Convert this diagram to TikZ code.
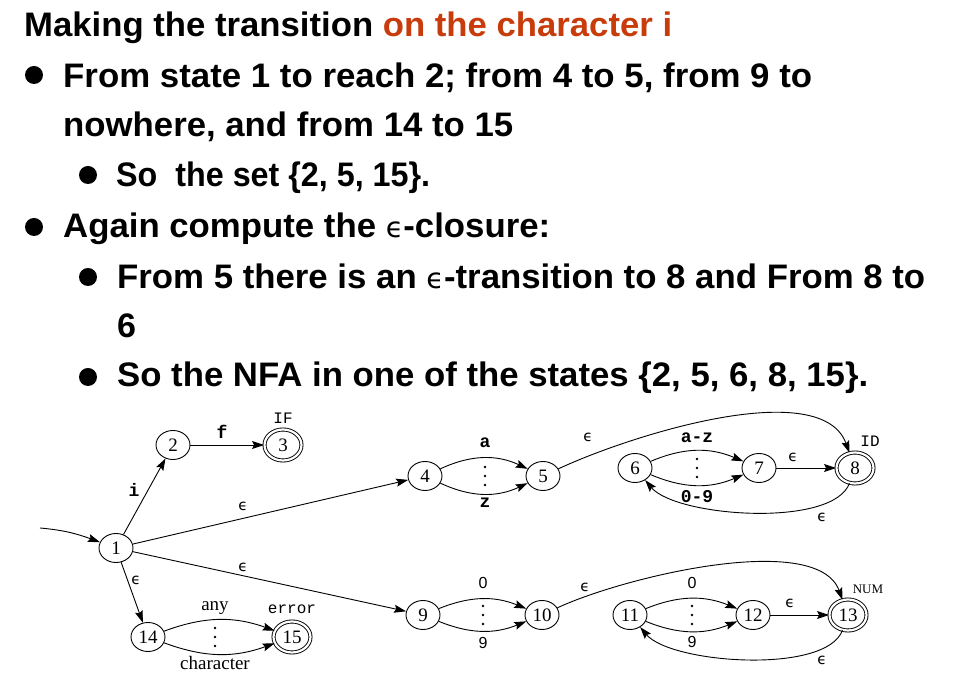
\documentclass[tikz,border=0pt]{standalone}
\usepackage{fontspec}
\setmainfont{Liberation Sans}
\newfontfamily\tms{Liberation Serif}
\newfontfamily\crr{Liberation Mono}
\newfontfamily\dv{DejaVu Sans}
\usetikzlibrary{arrows.meta,shapes.geometric}
\definecolor{hl}{RGB}{200,60,12}
\newcommand\fitw[2]{\resizebox{#1}{\height}{#2}}
\newcommand\teps{{\dv\mdseries\fontsize{28}{28}\selectfont ϵ}}
\newcommand\dotcol[2]{\fill (#1,#2+9) circle (1.3) (#1,#2) circle (1.3) (#1,#2-9) circle (1.3);}
\begin{document}
\begin{tikzpicture}[x=1pt,y=1pt,
  st/.style={ellipse,draw,line width=0.9pt,minimum width=34pt,minimum height=29pt,inner sep=0pt,font=\tms\fontsize{19}{19}\selectfont},
  acc/.style={st,double,double distance=2.2pt,minimum width=37pt,minimum height=31pt},
  tr/.style={-{Stealth[length=12pt,width=8pt,inset=2pt]},line width=0.9pt},
  txt/.style={anchor=base west,inner sep=0pt,font=\fontsize{34}{34}\selectfont\bfseries},
  bul/.style={circle,fill=black,inner sep=0pt,minimum size=18pt},
  eps/.style={inner sep=0pt,font=\dv\fontsize{15}{15}\selectfont},
  cb/.style={inner sep=0pt,font=\crr\bfseries\fontsize{18}{18}\selectfont},
  cr/.style={inner sep=0pt,font=\crr\fontsize{16}{16}\selectfont},
  tl/.style={inner sep=0pt,font=\tms\fontsize{19}{19}\selectfont},
  sl/.style={inner sep=0pt,font=\fontsize{16}{16}\selectfont}]
\useasboundingbox (0,0) rectangle (962,688);
% ---------- text ----------
\node[txt] (t1) at (24,651) {\fitw{648pt}{Making the transition \textcolor{hl}{on the character i}}};
\node[bul] (b2) at (34,613) {};
\node[txt] (t2) at (63,600) {\fitw{749pt}{From state 1 to reach 2; from 4 to 5, from 9 to}};
\node[txt] (t3) at (63,551) {\fitw{450pt}{nowhere, and from 14 to 15}};
\node[bul] (b4) at (88,513) {};
\node[txt] (t4) at (116,501) {\fitw{314pt}{So\ \ the set \{2, 5, 15\}.}};
\node[bul] (b5) at (34,461) {};
\node[txt] (t5) at (63,450) {\fitw{487pt}{Again compute the \teps-closure:}};
\node[bul] (b6) at (88,411) {};
\node[txt] (t6) at (117,399) {\fitw{808pt}{From 5 there is an \teps-transition to 8 and From 8 to}};
\node[txt] (t7) at (117,350) {6};
\node[bul] (b8) at (88,311) {};
\node[txt] (t8) at (117,301) {\fitw{751pt}{So the NFA in one of the states \{2, 5, 6, 8, 15\}.}};
% ---------- states ----------
\node[st] (n1) at (116,140) {1};
\node[st] (n2) at (173,243) {2};
\node[acc] (n3) at (283,243) {3};
\node[st] (n14) at (148,51) {14};
\node[acc] (n15) at (292,51) {15};
\node[st] (n4) at (425,212) {4};
\node[st] (n5) at (543,212) {5};
\node[st] (n6) at (635,220) {6};
\node[st] (n7) at (759,220) {7};
\node[acc] (n8) at (855,220) {8};
\node[st] (n9) at (423,73) {9};
\node[st] (n10) at (542,73) {10};
\node[st] (n11) at (630,73) {11};
\node[st] (n12) at (753,73) {12};
\node[acc] (n13) at (848,73) {13};
\coordinate (init) at (40,160);
% ---------- edges ----------
\draw[tr] (init) to[out=-5,in=160] (n1);
\draw[tr] (n1) -- (n2);
\draw[tr] (n2) -- (n3);
\draw[tr] (n1) -- (n4);
\draw[tr] (n1) -- (n9);
\draw[tr] (n1) -- (n14);
\draw[tr] (n14) to[bend left=20] (n15);
\draw[tr] (n14) to[bend right=20] (n15);
\draw[tr] (n4) to[bend left=25] (n5);
\draw[tr] (n4) to[bend right=25] (n5);
\draw[tr] (n5) to[out=25,in=110,looseness=0.72] (n8);
\draw[tr] (n6) to[bend left=23] (n7);
\draw[tr] (n6) to[bend right=23] (n7);
\draw[tr] (n7) -- (n8);
\draw[tr] (n8) to[out=-110,in=-50,looseness=0.6] (n6);
\draw[tr] (n9) to[bend left=22] (n10);
\draw[tr] (n9) to[bend right=22] (n10);
\draw[tr] (n10) to[out=25,in=110,looseness=0.66] (n13);
\draw[tr] (n11) to[bend left=22] (n12);
\draw[tr] (n11) to[bend right=22] (n12);
\draw[tr] (n12) -- (n13);
\draw[tr] (n13) to[out=-110,in=-50,looseness=0.6] (n11);
% ---------- dots ----------
\dotcol{215}{51}
\dotcol{485}{212}
\dotcol{697}{220}
\dotcol{483}{73}
\dotcol{692}{73}
% ---------- labels ----------
\node[cr] (lIF) at (283,270) {IF};
\node[cb] (lf) at (222,256) {f};
\node[cb] (li) at (134,198) {i};
\node[eps] (e1) at (136,108) {ϵ};
\node[eps] (e2) at (243,182) {ϵ};
\node[eps] (e3) at (243,121) {ϵ};
\node[tl] (lany) at (215,80) {any};
\node[tl] (lchar) at (215,25) {character};
\node[cr] (lerr) at (292,79) {error};
\node[cb] (la) at (485,245) {a};
\node[cb] (lz) at (485,185) {z};
\node[eps] (e58) at (588,251) {ϵ};
\node[cb] (laz) at (697,250) {a-z};
\node[cb] (l09) at (697,191) {0-9};
\node[eps] (e78) at (793,231) {ϵ};
\node[cr] (lID) at (870,247) {ID};
\node[eps] (eL8) at (822,171) {ϵ};
\node[sl] (l0a) at (483,105) {0};
\node[sl] (l9a) at (483,45) {9};
\node[eps] (e1013) at (585,101) {ϵ};
\node[sl] (l0b) at (692,105) {0};
\node[sl] (l9b) at (692,46) {9};
\node[eps] (e1213) at (790,85) {ϵ};
\node[inner sep=0pt,font=\tms\fontsize{13}{13}\selectfont] (lNUM) at (868,99) {NUM};
\node[eps] (eL13) at (822,28) {ϵ};
\end{tikzpicture}
\end{document}
